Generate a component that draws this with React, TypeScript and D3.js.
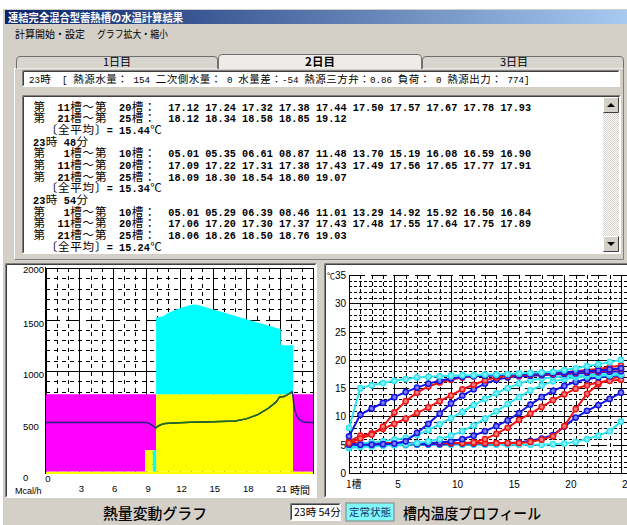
import React from "react";
import * as d3 from "d3";

// ---------------- Text data ----------------
const titleText = "連結完全混合型蓄熱槽の水温計算結果";
const menuItems = ["計算開始・設定", "グラフ拡大・縮小"];
const tabLabels = ["1日目", "2日目", "3日目"];
const infoLine = "23時　[ 熱源水量： 154 二次側水量： 0 水量差：-54 熱源三方弁：0.86 負荷： 0 熱源出力： 774]";

const rowRanges = ["第　11槽～第　20槽：", "第　21槽～第　25槽：", "第　 1槽～第　10槽："];
const t2342_11_20 = [17.12, 17.24, 17.32, 17.38, 17.44, 17.5, 17.57, 17.67, 17.78, 17.93];
const t2342_21_25 = [18.12, 18.34, 18.58, 18.85, 19.12];
const avg2342 = 15.44;
const t2348_1_10 = [5.01, 5.35, 6.61, 8.87, 11.48, 13.7, 15.19, 16.08, 16.59, 16.9];
const t2348_11_20 = [17.09, 17.22, 17.31, 17.38, 17.43, 17.49, 17.56, 17.65, 17.77, 17.91];
const t2348_21_25 = [18.09, 18.3, 18.54, 18.8, 19.07];
const avg2348 = 15.34;
const t2354_1_10 = [5.01, 5.29, 6.39, 8.46, 11.01, 13.29, 14.92, 15.92, 16.5, 16.84];
const t2354_11_20 = [17.06, 17.2, 17.3, 17.37, 17.43, 17.48, 17.55, 17.64, 17.75, 17.89];
const t2354_21_25 = [18.06, 18.26, 18.5, 18.76, 19.03];
const avg2354 = 15.24;

// ---------------- Heat chart data (Mcal/h vs hour) ----------------
const heatTicksY = [0, 500, 1000, 1500, 2000];
const heatTicksX = [0, 3, 6, 9, 12, 15, 18, 21];
const baseStrip = [[0, 24, 0, 25]]; // [t0, t1, v0, v1]
const magentaSpans = [[0, 8.9, 25, 774], [8.9, 9.9, 230, 774], [22.2, 24, 25, 774]];
const yellowSpans = [[8.9, 9.6, 25, 230], [9.9, 22.2, 25, 774]];
const cyanSpans = [[9.6, 9.9, 25, 230]];
const cyanTopHours = [9.9, 10.5, 11.0, 12.0, 13.0, 13.5, 21.1, 21.1, 22.2];
const cyanTopValues = [1520, 1530, 1565, 1610, 1640, 1645, 1405, 1250, 1250];
const loadHours = [0, 9.0, 9.3, 9.6, 9.85, 10.0, 10.3, 10.7, 11.5, 13, 15, 17, 18, 19, 20, 20.7, 21.0, 21.4, 22.0, 22.15, 22.3, 22.5, 22.8, 23.2, 24];
const loadValues = [500, 500, 490, 470, 445, 460, 478, 490, 495, 502, 508, 515, 535, 575, 640, 700, 748, 752, 790, 800, 650, 570, 525, 502, 500];

// ---------------- Tank profile data (deg C vs tank no.) ----------------
const tankNos = d3.range(1, 26);
const profTicksY = [0, 5, 10, 15, 20, 25, 30, 35];
const profTicksX = [5, 10, 15, 20, 25];
const cyanA = [8.0, 15.0, 15.5, 15.9, 16.3, 16.6, 16.9, 17.0, 17.1, 17.2, 17.3, 17.3, 17.4, 17.4, 17.5, 17.6, 17.7, 17.8, 17.9, 18.2, 18.5, 18.9, 19.2, 19.6, 20.0];
const blueA = [6.5, 10.3, 11.4, 12.4, 13.4, 14.3, 15.1, 15.8, 16.3, 16.7, 17.0, 17.1, 17.2, 17.3, 17.4, 17.4, 17.5, 17.6, 17.7, 17.8, 17.9, 18.0, 18.1, 18.3, 18.5];
const redA = [5.3, 6.1, 6.8, 8.2, 10.7, 12.7, 14.2, 15.3, 16.0, 16.5, 16.9, 17.1, 17.2, 17.3, 17.4, 17.4, 17.5, 17.6, 17.7, 17.8, 18.0, 18.2, 18.4, 18.7, 19.0];
const redB = [5.6, 6.6, 7.0, 7.8, 8.7, 9.6, 10.6, 11.6, 12.7, 13.7, 14.8, 15.6, 16.4, 16.9, 17.2, 17.3, 17.4, 17.5, 17.6, 17.7, 17.8, 17.9, 18.0, 18.2, 18.4];
const blueB = [5.0, 5.0, 5.0, 5.1, 5.2, 5.6, 7.1, 8.7, 10.5, 12.3, 13.7, 14.8, 15.8, 16.5, 16.9, 17.1, 17.2, 17.3, 17.4, 17.5, 17.6, 17.7, 17.8, 17.9, 18.0];
const cyanB = [4.6, 5.2, 5.4, 5.6, 5.9, 6.2, 6.7, 7.6, 8.6, 9.7, 10.8, 12.0, 13.1, 14.1, 15.0, 15.8, 16.4, 16.7, 16.9, 17.1, 17.2, 17.3, 17.4, 17.5, 17.6];
const cyanC = [4.5, 4.7, 4.8, 4.9, 5.0, 5.1, 5.3, 5.6, 6.0, 6.6, 7.4, 8.4, 9.6, 10.9, 12.2, 13.4, 14.6, 15.5, 16.2, 16.6, 16.9, 17.1, 17.2, 17.3, 17.4];
const blueC = [5.1, 5.1, 5.1, 5.1, 5.1, 5.2, 5.2, 5.3, 5.4, 5.6, 6.0, 6.6, 7.4, 8.3, 9.3, 10.6, 12.1, 13.4, 14.5, 15.4, 16.1, 16.6, 16.9, 17.1, 17.3];
const redC = [5.2, 5.2, 5.2, 5.2, 5.2, 5.2, 5.2, 5.3, 5.3, 5.3, 5.3, 5.4, 6.0, 6.9, 8.0, 9.4, 10.5, 11.7, 12.9, 13.9, 14.9, 15.5, 16.0, 16.3, 16.5];
const redD = [5.4, 5.3, 5.3, 5.3, 5.3, 5.3, 5.3, 5.3, 5.3, 5.3, 5.3, 5.3, 5.3, 5.3, 5.3, 5.3, 5.5, 5.9, 6.5, 8.3, 11.3, 14.0, 15.7, 16.6, 17.1];
const blueD = [5.2, 5.1, 5.1, 5.1, 5.1, 5.1, 5.1, 5.1, 5.1, 5.2, 5.2, 5.2, 5.2, 5.3, 5.3, 5.4, 5.7, 6.1, 6.7, 8.2, 9.8, 11.0, 12.0, 13.1, 14.2];
const cyanD = [4.4, 4.6, 4.7, 4.8, 4.9, 4.9, 5.0, 5.0, 5.0, 5.0, 5.0, 5.0, 5.0, 5.0, 5.0, 5.0, 5.0, 5.0, 5.1, 5.2, 5.5, 6.0, 6.6, 7.4, 9.1];

const profileSeries = [cyanD, blueD, redD, redC, blueC, cyanC, cyanB, blueB, redB, redA, blueA, cyanA];
const profileKinds = ["c", "b", "r", "r", "b", "c", "c", "b", "r", "r", "b", "c"];

const statusTime = "23時 54分";
const statusState = "定常状態";
const leftTitle = "熱量変動グラフ";
const rightTitle = "槽内温度プロフィール";

// ---------------- helpers ----------------
const CJK = "'Noto Sans CJK JP', 'Noto Sans CJK SC', sans-serif";
const MONO = "'Liberation Mono', 'DejaVu Sans Mono', monospace";
const SANS = "'Liberation Sans', Arial, sans-serif";

// lays a string out on a fixed half-width grid (wide chars take two cells)
function layoutMono(str: string, x0: number, h: number) {
  const runs: { xs: number[]; text: string; wide: boolean }[] = [];
  let x = x0;
  let cur: any = null;
  for (const c of Array.from(str)) {
    const wide = c.charCodeAt(0) > 0xff;
    const adv = wide ? 2 * h : h;
    if (c === " " || c === "\u3000") {
      cur = null;
      x += adv;
      continue;
    }
    if (!(cur && cur.wide === wide)) {
      cur = { xs: [], text: "", wide };
      runs.push(cur);
    }
    cur.text += c;
    cur.xs.push(x);
    x += adv;
  }
  return runs;
}

function monoSpans(key: string, str: string, x: number, y: number, h: number, cjkSize: number, asciiSize: number, asciiWeight = 400) {
  return layoutMono(str, x, h).map((r, i) => (
    <tspan
      key={key + "-" + i}
      y={y}
      x={r.xs.map((v) => (r.wide ? v + (2 * h - cjkSize) / 2 : v).toFixed(2)).join(" ")}
      fontFamily={r.wide ? CJK : MONO}
      fontSize={r.wide ? cjkSize : asciiSize}
      fontWeight={r.wide ? 400 : asciiWeight}
    >
      {r.text}
    </tspan>
  ));
}

const fmt = d3.format("05.2f");

function Sunken({ x, y, w, h, fill = "#fff" }: any) {
  return (
    <g>
      <rect x={x} y={y} width={w} height={h} fill={fill} />
      <path d={`M${x + 0.5},${y + h - 0.5}V${y + 0.5}H${x + w - 0.5}`} stroke="#808080" fill="none" />
      <path d={`M${x + 1.5},${y + h - 1.5}V${y + 1.5}H${x + w - 1.5}`} stroke="#404040" fill="none" />
      <path d={`M${x + 0.5},${y + h - 0.5}H${x + w - 0.5}V${y + 0.5}`} stroke="#ffffff" fill="none" />
    </g>
  );
}

export default function App() {
  // ----- text area lines -----
  const textLines: { str: string; nums?: number[] }[] = [
    { str: rowRanges[0], nums: t2342_11_20 },
    { str: rowRanges[1], nums: t2342_21_25 },
    { str: `  〔全平均〕= ${avg2342.toFixed(2)}℃` },
    { str: "23時 48分" },
    { str: rowRanges[2], nums: t2348_1_10 },
    { str: rowRanges[0], nums: t2348_11_20 },
    { str: rowRanges[1], nums: t2348_21_25 },
    { str: `  〔全平均〕= ${avg2348.toFixed(2)}℃` },
    { str: "23時 54分" },
    { str: rowRanges[2], nums: t2354_1_10 },
    { str: rowRanges[0], nums: t2354_11_20 },
    { str: rowRanges[1], nums: t2354_21_25 },
    { str: `  〔全平均〕= ${avg2354.toFixed(2)}℃` },
  ];
  const hT = 6.15;

  // ----- heat chart scales -----
  const hx = d3.scaleLinear().domain([0, 24]).range([46, 313]);
  const hy = d3.scaleLinear().domain([0, 2000]).range([474, 268]);
  const span = (s: number[]) => `M${hx(s[0])},${hy(s[2])}H${hx(s[1])}V${hy(s[3])}H${hx(s[0])}Z`;
  const cyanArea = d3
    .area<number>()
    .x((_, i) => hx(cyanTopHours[i]))
    .y0(hy(774))
    .y1((d) => hy(d))(cyanTopValues);
  const loadLine = d3
    .line<number>()
    .x((_, i) => hx(loadHours[i]))
    .y((d) => hy(d));
  const iA = loadHours.findIndex((t) => t >= 9.85);
  const iB = loadHours.findIndex((t) => t >= 22.15);
  const greenPath = d3
    .line<number>()
    .x((_, i) => hx(loadHours[iA + i]))
    .y((d) => hy(d))(loadValues.slice(iA, iB + 1));

  // ----- profile chart scales -----
  const px = d3.scaleLinear().domain([1, 25]).range([349, 621]);
  const py = d3.scaleLinear().domain([0, 35]).range([473, 275]);
  const kindColor: any = { c: "#2ee6f2", b: "#1414e6", r: "#ee1414" };
  const profLine = d3
    .line<number>()
    .x((_, i) => px(tankNos[i]))
    .y((d) => py(d));

  const hourGrid = d3.range(0, 25);
  const heatGrid = d3.range(100, 2001, 100);
  const tempGrid = d3.range(1, 36);

  return (
    <svg
      width={627}
      height={525}
      style={{ position: "absolute", left: 0, top: 0, display: "block" }}
      xmlns="http://www.w3.org/2000/svg"
    >
      <defs>
        <linearGradient id="tb" x1="0" x2="1" y1="0" y2="0">
          <stop offset="0" stopColor="#0a246a" />
          <stop offset="1" stopColor="#a6caf0" />
        </linearGradient>
        <pattern id="chk" width="2" height="2" patternUnits="userSpaceOnUse">
          <rect width="2" height="2" fill="#ffffff" />
          <rect width="1" height="1" fill="#d4d0c8" />
          <rect x="1" y="1" width="1" height="1" fill="#d4d0c8" />
        </pattern>
        <clipPath id="heatClip">
          <rect x={46} y={266} width={268} height={210} />
        </clipPath>
        <clipPath id="profClip">
          <rect x={327} y={266} width={300} height={230} />
        </clipPath>
      </defs>

      <rect width={627} height={525} fill="#ffffff" />
      <rect x={3} y={9} width={624} height={516} fill="#d4d0c8" />

      {/* title bar */}
      <rect x={5} y={10} width={622} height={14} fill="url(#tb)" />
      <text x={8} y={21.5} fill="#fff" fontFamily={CJK} fontWeight={700} fontSize={11} textLength={175} lengthAdjust="spacingAndGlyphs">
        {titleText}
      </text>

      {/* menu */}
      <text x={15} y={38} fontFamily={CJK} fontSize={10.5} fill="#000" textLength={70} lengthAdjust="spacingAndGlyphs">
        {menuItems[0]}
      </text>
      <text x={97} y={38} fontFamily={CJK} fontSize={10.5} fill="#000" textLength={71} lengthAdjust="spacingAndGlyphs">
        {menuItems[1]}
      </text>

      {/* tab panel */}
      <rect x={14} y={68} width={610} height={192} fill="#d4d0c8" />
      <path d="M14.5,259.5V68.5H623.5" stroke="#ffffff" fill="none" />
      <path d="M14.5,259.5H623.5V68.5" stroke="#808080" fill="none" />

      {/* tabs */}
      {[
        [16, 218, 56, false],
        [422, 624, 56, false],
        [218, 422, 54, true],
      ].map(([x0, x1, top, sel]: any, i) => (
        <path
          key={i}
          d={`M${x0 + 0.5},${sel ? 69 : 68.5}V${top + 4}Q${x0 + 0.5},${top + 0.5} ${x0 + 4},${top + 0.5}H${x1 - 4}Q${x1 - 0.5},${top + 0.5} ${x1 - 0.5},${top + 4}V${sel ? 69 : 68.5}`}
          fill={sel ? "#edece8" : "#d8d5cf"}
          stroke="#6f6f6f"
        />
      ))}
      <text x={117} y={66} textAnchor="middle" fontFamily={CJK} fontSize={11} fill="#000">
        {tabLabels[0]}
      </text>
      <text x={320} y={66} textAnchor="middle" fontFamily={CJK} fontSize={11.5} fontWeight={700} fill="#000">
        {tabLabels[1]}
      </text>
      <text x={514} y={66} textAnchor="middle" fontFamily={CJK} fontSize={11} fill="#000">
        {tabLabels[2]}
      </text>

      {/* info line */}
      <Sunken x={22} y={70} w={598} h={17} />
      <text fill="#000">{monoSpans("info", infoLine, 29, 82.5, 5.5, 10.5, 9.2)}</text>

      {/* text area */}
      <Sunken x={22} y={95} w={599} h={159} />
      <text fill="#000">
        {textLines.map((ln, i) => {
          const y = 110.5 + i * 11.67;
          const full = ln.nums ? ln.str + "  " + ln.nums.map((v) => fmt(v)).join(" ") : ln.str;
          return monoSpans("l" + i, full, 33, y, hT, 11.5, 10.2, 700);
        })}
      </text>
      {/* scrollbar */}
      <rect x={603} y={97} width={16} height={155} fill="url(#chk)" />
      {[97, 236].map((yy, i) => (
        <g key={i}>
          <rect x={603} y={yy} width={16} height={16} fill="#d4d0c8" />
          <path d={`M603.5,${yy + 15.5}V${yy + 0.5}H618.5`} stroke="#fff" fill="none" />
          <path d={`M603.5,${yy + 15.5}H618.5V${yy + 0.5}`} stroke="#404040" fill="none" />
          <path
            d={i === 0 ? `M607,${yy + 10}L611,${yy + 6}L615,${yy + 10}Z` : `M607,${yy + 6}L611,${yy + 10}L615,${yy + 6}Z`}
            fill="#000"
          />
        </g>
      ))}

      {/* ================= left chart ================= */}
      <Sunken x={5} y={263} w={312} h={235} />
      <g>
        {heatGrid.map((v) => (
          <line
            key={"h" + v}
            x1={46}
            x2={313}
            y1={Math.round(hy(v)) + 0.5}
            y2={Math.round(hy(v)) + 0.5}
            stroke="#000"
            strokeWidth={1}
            strokeDasharray={v % 1000 === 0 ? undefined : v % 500 === 0 ? "14,6" : "4,4"}
          />
        ))}
        {hourGrid.map((t) => (
          <line
            key={"v" + t}
            x1={Math.round(hx(t)) + 0.5}
            x2={Math.round(hx(t)) + 0.5}
            y1={268}
            y2={474}
            stroke="#000"
            strokeDasharray={t % 3 === 0 ? undefined : "4,4"}
          />
        ))}
        <g clipPath="url(#heatClip)">
          {baseStrip.map((s, i) => (
            <path key={"b" + i} d={span(s)} fill="#ffff00" />
          ))}
          {magentaSpans.map((s, i) => (
            <path key={"m" + i} d={span(s)} fill="#ff00ff" />
          ))}
          {yellowSpans.map((s, i) => (
            <path key={"y" + i} d={span(s)} fill="#ffff00" />
          ))}
          {cyanSpans.map((s, i) => (
            <path key={"c" + i} d={span(s)} fill="#00ffff" />
          ))}
          <path d={cyanArea || ""} fill="#00ffff" />
          <path d={loadLine(loadValues) || ""} fill="none" stroke="#23237a" strokeWidth={1.4} />
          <path d={greenPath || ""} fill="none" stroke="#1d6b1d" strokeWidth={1.4} />
        </g>
        <line x1={45.5} x2={45.5} y1={267} y2={474} stroke="#000" />
        {heatTicksY.map((v) => (
          <text key={v} x={23} y={hy(v) + (v === 2000 ? 5 : 7)} fontFamily={SANS} fontSize={9.5} fill="#000">
            {v}
          </text>
        ))}
        {heatTicksX.map((t) => (
          <text key={t} x={hx(t) + 2} y={t === 0 ? 482 : 492} textAnchor="middle" fontFamily={SANS} fontSize={9.5} fill="#000">
            {t}
          </text>
        ))}
        <text x={15} y={494} fontFamily={SANS} fontSize={9} fill="#000">
          Mcal/h
        </text>
        <text x={290} y={494} fontFamily={CJK} fontSize={10} fill="#000">
          時間
        </text>
      </g>

      {/* ================= right chart ================= */}
      <Sunken x={324} y={263} w={306} h={235} />
      <g clipPath="url(#profClip)">
        {tempGrid.map((v) => (
          <line
            key={"t" + v}
            x1={349}
            x2={627}
            y1={Math.round(py(v)) + 0.5}
            y2={Math.round(py(v)) + 0.5}
            stroke="#000"
            strokeDasharray={v % 10 === 0 ? undefined : v % 5 === 0 ? "16,6" : "3,2"}
          />
        ))}
        {tankNos.map((n) => (
          <line
            key={"n" + n}
            x1={Math.round(px(n)) + 0.5}
            x2={Math.round(px(n)) + 0.5}
            y1={275}
            y2={473}
            stroke="#000"
            strokeDasharray={n % 5 === 0 || n === 1 ? undefined : "4,3"}
          />
        ))}
        <line x1={349} x2={627} y1={473.5} y2={473.5} stroke="#000" />
        {profileSeries.map((s, k) => {
          const col = kindColor[profileKinds[k]];
          const inner = d3.interpolateRgb(col, "#ffffff")(0.45);
          return (
            <g key={k}>
              <path d={profLine(s) || ""} fill="none" stroke={col} strokeWidth={2} />
              {s.map((v, i) => (
                <circle key={i} cx={px(tankNos[i])} cy={py(v)} r={2.6} fill={inner} stroke={col} strokeWidth={1.5} />
              ))}
            </g>
          );
        })}
      </g>
      {profTicksY.map((v) => (
        <text key={v} x={346} y={py(v) + 4} textAnchor="end" fontFamily={SANS} fontSize={10} fill="#000">
          {v}
        </text>
      ))}
      <text x={327} y={279} fontFamily={CJK} fontSize={8} fill="#000">
        ℃
      </text>
      <text x={346} y={488} fontFamily={CJK} fontSize={10} fill="#000">
        1槽
      </text>
      {profTicksX.map((n) => (
        <text key={n} x={px(n) + 1} y={488} fontFamily={SANS} fontSize={10} fill="#000">
          {n}
        </text>
      ))}

      {/* ================= status bar ================= */}
      <text x={103} y={519} fontFamily={CJK} fontSize={15} fontWeight={500} textLength={104} lengthAdjust="spacingAndGlyphs" fill="#000">
        {leftTitle}
      </text>
      <Sunken x={290} y={503} w={51} h={18} />
      <text x={294} y={516} fontFamily={CJK} fontSize={10.5} fill="#000">
        {statusTime}
      </text>
      <rect x={346} y={503} width={48} height={18} fill="#7ff9f9" stroke="#808080" />
      <text x={370} y={516} textAnchor="middle" fontFamily={CJK} fontSize={10.5} fill="#103070">
        {statusState}
      </text>
      <text x={403} y={519} fontFamily={CJK} fontSize={15} fontWeight={500} textLength={138} lengthAdjust="spacingAndGlyphs" fill="#000">
        {rightTitle}
      </text>
    </svg>
  );
}
